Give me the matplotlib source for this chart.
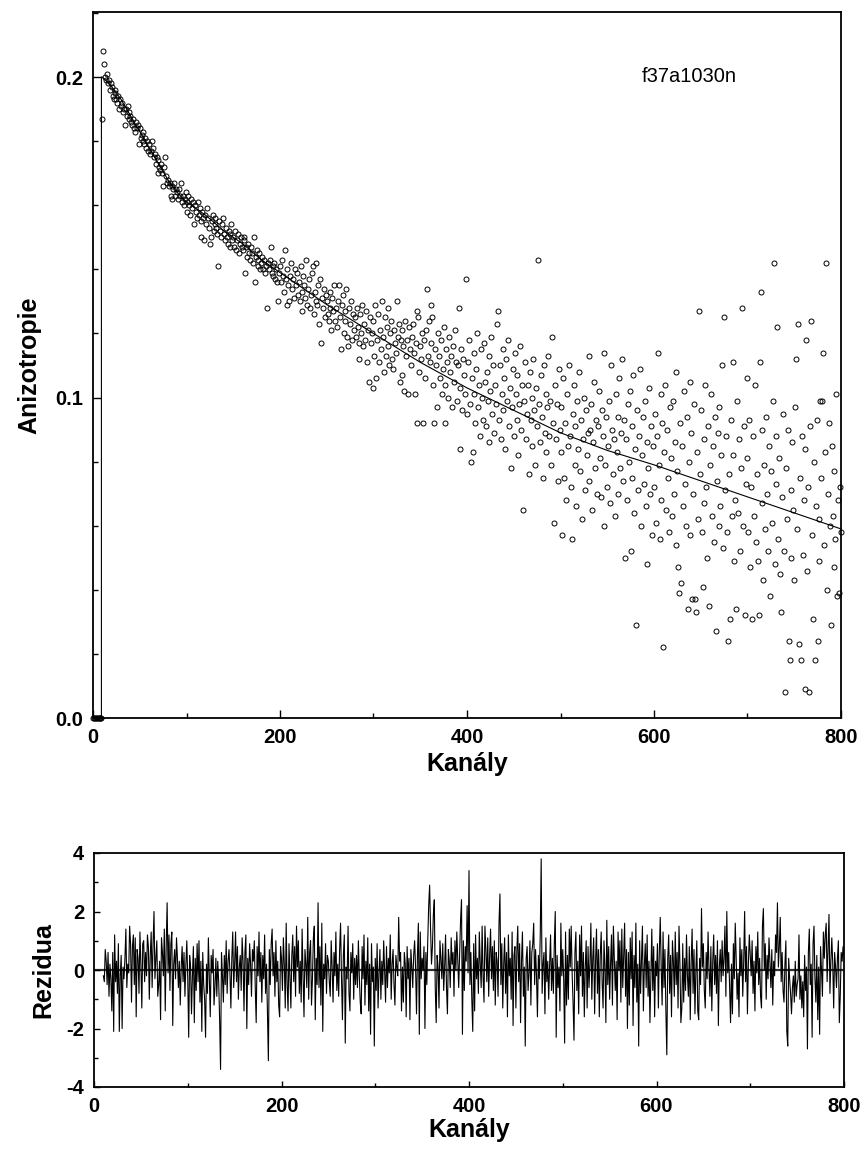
import numpy as np
import matplotlib
matplotlib.use('Agg')
import matplotlib.pyplot as plt
from matplotlib.ticker import MultipleLocator

plt.rcParams['font.family'] = ['Liberation Sans', 'DejaVu Sans']
plt.rcParams['axes.unicode_minus'] = False

# anisotropy per channel (0..800)
aniso = [
    0.0, 0.0, 0.0, 0.0, 0.0, 0.0, 0.0, 0.0, 0.0, 0.0,
    .187, .208, .204, .200, .199, .201, .198, .199, .196, .198,
    .197, .194, .193, .196, .195, .193, .192, .194, .190, .193,
    .191, .192, .189, .190, .185, .190, .188, .191, .187, .189,
    .188, .186, .185, .187, .184, .183, .186, .184, .185, .179,
    .184, .181, .182, .180, .183, .179, .181, .178, .180, .177,
    .179, .176, .177, .180, .178, .175, .176, .173, .175, .170,
    .174, .172, .171, .173, .170, .166, .172, .175, .169, .167,
    .168, .166, .167, .163, .162, .166, .165, .167, .163, .165,
    .164, .162, .165, .163, .167, .161, .163, .160, .162, .164,
    # 100
    .161, .158, .163, .160, .157, .162, .159, .161, .154, .160,
    .158, .156, .161, .157, .159, .155, .150, .158, .156, .149,
    .157, .154, .159, .156, .153, .148, .150, .155, .157, .152,
    .154, .156, .153, .151, .141, .155, .152, .150, .154, .156,
    .151, .149, .153, .150, .148, .152, .147, .151, .154, .149,
    .150, .147, .152, .146, .149, .151, .145, .148, .150, .147,
    .146, .149, .150, .139, .147, .144, .148, .145, .143, .147,
    .145, .142, .150, .136, .144, .146, .141, .143, .145, .140,
    .142, .144, .140, .143, .139, .141, .128, .142, .140, .143,
    .147, .139, .141, .138, .142, .137, .140, .136, .130, .139,
    # 200
    .141, .136, .143, .138, .133, .146, .137, .129, .140, .135,
    .130, .138, .142, .134, .137, .131, .140, .135, .139, .132,
    .136, .130, .141, .133, .127, .138, .135, .131, .143, .129,
    .134, .137, .128, .132, .139, .141, .126, .133, .130, .142,
    .129, .135, .123, .137, .117, .131, .128, .134, .125, .132,
    .130, .126, .124, .133, .128, .121, .131, .127, .135, .124,
    .128, .122, .130, .135, .125, .115, .129, .132, .120, .127,
    .124, .134, .119, .116, .128, .123, .130, .118, .126, .121,
    .125, .119, .128, .122, .117, .112, .126, .120, .129, .116,
    .123, .118, .127, .111, .121, .105, .125, .117, .120, .103,
    # 300
    .124, .113, .129, .106, .118, .126, .111, .121, .115, .130,
    .119, .108, .125, .113, .122, .116, .128, .110, .120, .124,
    .112, .109, .121, .117, .114, .130, .119, .123, .105, .118,
    .107, .121, .116, .102, .124, .113, .118, .101, .122, .115,
    .110, .119, .123, .114, .101, .117, .127, .092, .125, .108,
    .116, .112, .120, .092, .118, .106, .121, .134, .113, .124,
    .111, .117, .129, .125, .104, .092, .115, .110, .097, .120,
    .113, .106, .118, .101, .109, .122, .104, .092, .115, .111,
    .100, .119, .108, .113, .097, .116, .105, .121, .111, .099,
    .110, .128, .084, .103, .115, .096, .112, .107, .101, .137,
    # 400
    .095, .111, .118, .098, .080, .106, .083, .114, .101, .092,
    .109, .120, .097, .104, .088, .115, .100, .093, .117, .105,
    .091, .108, .099, .113, .086, .102, .119, .095, .110, .089,
    .104, .098, .123, .127, .093, .110, .087, .101, .115, .096,
    .106, .084, .112, .099, .118, .091, .103, .078, .097, .109,
    .088, .114, .101, .093, .107, .082, .098, .116, .090, .104,
    .065, .099, .111, .087, .095, .104, .076, .108, .093, .100,
    .085, .112, .096, .079, .103, .091, .143, .098, .086, .107,
    .094, .075, .110, .089, .101, .083, .097, .113, .088, .099,
    .079, .119, .092, .061, .104, .087, .098, .074, .109, .090,
    # 500
    .097, .083, .057, .106, .075, .092, .068, .101, .085, .110,
    .088, .072, .056, .095, .104, .079, .091, .066, .099, .084,
    .108, .077, .093, .062, .087, .100, .071, .096, .082, .089,
    .113, .074, .090, .098, .065, .086, .105, .078, .093, .070,
    .091, .102, .081, .069, .096, .088, .060, .114, .079, .094,
    .072, .085, .099, .067, .110, .090, .076, .087, .063, .101,
    .083, .094, .070, .106, .078, .089, .112, .074, .093, .050,
    .087, .068, .098, .080, .102, .052, .091, .075, .107, .064,
    .084, .029, .096, .071, .088, .109, .060, .082, .094, .073,
    .099, .066, .086, .048, .078, .103, .070, .091, .057, .085,
    # 600
    .072, .095, .061, .088, .114, .079, .056, .101, .068, .092,
    .022, .083, .104, .065, .090, .075, .058, .097, .081, .063,
    .099, .070, .086, .054, .108, .077, .047, .039, .092, .042,
    .085, .066, .102, .073, .060, .094, .034, .080, .105, .057,
    .089, .037, .070, .098, .037, .033, .083, .062, .127, .076,
    .096, .058, .041, .087, .067, .104, .072, .050, .091, .035,
    .079, .101, .063, .085, .055, .094, .027, .074, .089, .060,
    .097, .066, .082, .110, .053, .125, .071, .088, .058, .024,
    .076, .031, .093, .063, .111, .082, .049, .068, .034, .099,
    .064, .087, .052, .078, .128, .060, .091, .032, .073, .106,
    # 700
    .081, .058, .093, .047, .072, .031, .088, .063, .104, .055,
    .076, .049, .032, .111, .133, .067, .090, .043, .079, .059,
    .094, .070, .052, .085, .038, .077, .061, .099, .142, .048,
    .073, .088, .122, .056, .081, .045, .033, .069, .095, .052,
    .008, .078, .062, .090, .024, .018, .071, .050, .086, .065,
    .043, .097, .112, .059, .123, .023, .075, .018, .088, .051,
    .068, .009, .084, .118, .046, .072, .008, .091, .124, .057,
    .031, .080, .018, .066, .093, .024, .062, .049, .099, .075,
    .099, .114, .054, .083, .142, .040, .070, .092, .060, .029,
    .085, .063, .047, .077, .056, .101, .038, .068, .039, .072,
    .058,
]

# fitted curve, read at a few channels
fit_ch = [0, 9, 9, 10, 20, 30, 40, 50, 60, 70, 80, 90, 100, 120, 140, 160, 180,
          200, 250, 300, 350, 400, 450, 500, 550, 600, 650, 700, 750, 800]
fit_val = [0.0, 0.0, .200, .200, .197, .193, .188, .183, .178, .173, .168, .164,
           .161, .157, .152, .148, .143, .139, .129, .120, .111, .103, .096,
           .089, .0835, .079, .074, .069, .064, .059]

# weighted residuals, channels 10..800
resid = [
    -0.2, -0.4, 0.7, 0.3, -0.5, 0.6, -0.9, 0.2, -0.3, -1.4,
    0.6, -2.1, 1.2, -0.4, 0.3, -0.8, 0.9, -2.1, -0.2, 0.5,
    -2.0, 0.1, -0.3, 0.4, 1.4, -0.6, 0.2, -0.1, 1.5, 0.9,
    -1.1, 0.8, 1.2, -0.5, 1.1, -1.6, 0.7, 0.4, -0.8, 1.3,
    0.2, -1.3, 0.9, 1.0, -0.4, 0.6, -0.2, 1.2, 0.8, -1.0,
    0.5, 1.3, -0.6, 0.9, 2.0, -0.3, 0.4, 1.0, -0.9, -0.5,
    0.3, -1.7, 1.1, 0.6, -0.2, 1.4, -1.4, 0.8, 2.3, -0.1,
    1.2, -0.7, 0.9, 1.3, -1.9, 0.2, 0.7, -0.3, 1.1, 0.4,
    -0.6, 0.3, -1.2, 0.1, 0.8, -0.4, 0.6, -0.9, 0.2, 1.0,
    # 100
    -0.3, -2.3, 0.5, 0.1, -1.5, -0.2, 0.8, -1.8, 0.4, -0.7,
    0.9, -0.4, 1.0, -1.1, 0.3, -2.1, 0.6, -0.5, -1.0, -2.3,
    0.2, -0.8, 1.1, -0.3, -1.6, 0.5, -0.1, 0.7, -1.2, -0.6,
    0.4, -0.9, 0.3, -0.4, -1.7, -3.4, 0.6, -0.2, -1.1, 0.5,
    -0.5, 1.0, -0.8, 0.3, 0.7, -0.1, -1.3, 0.4, 1.3, -0.6,
    0.2, 1.3, -0.4, 0.8, -1.0, 0.1, 0.5, -0.7, 1.1, 0.3,
    -1.4, 0.6, 1.2, -2.0, 0.4, -0.5, 0.9, 0.2, -0.9, 0.7,
    0.3, 1.0, -0.6, -1.8, 0.8, -0.2, 1.3, -0.4, 0.6, -1.1,
    0.5, -0.3, 1.2, -0.8, 0.2, -1.5, -3.1, 0.7, -0.5, 0.9,
    1.4, -0.2, 0.6, -0.9, 1.0, -0.4, 0.3, -1.2, -1.6, 0.8,
    # 200
    0.4, -0.7, 1.1, 0.2, -1.3, 1.6, -0.5, -1.4, 0.9, -0.2,
    -1.3, 0.5, 1.2, -0.4, 0.8, -0.9, 1.5, 0.1, 1.0, -0.8,
    0.3, -1.1, 1.4, -0.2, -1.6, 0.7, 0.2, -0.6, 1.8, -1.0,
    0.6, 1.0, -1.2, -0.3, 1.1, 1.5, -1.7, 0.4, -0.5, 2.3,
    -0.6, 0.8, -1.2, 1.6, -2.1, 0.2, -0.3, 0.9, -0.8, 0.5,
    0.3, -0.4, -0.9, 1.0, 0.1, -1.1, 0.6, -0.2, 1.3, -0.7,
    0.2, -0.9, 0.7, 1.6, -0.3, -1.7, 0.5, 1.2, -2.5, 0.1,
    -0.3, 1.5, -0.8, -1.4, 0.6, -0.1, 0.9, -1.0, 0.4, -0.5,
    0.5, -0.6, 1.0, -0.2, -1.1, -1.5, 0.8, -0.3, 1.2, -1.2,
    0.3, -0.5, 1.1, -1.4, 0.2, -2.2, 0.9, -0.4, 0.1, -2.6,
    # 300
    0.4, -0.7, 0.9, -1.3, -0.1, 0.7, -1.0, 0.3, -0.5, 1.0,
    0.0, -1.1, 0.8, -0.6, 0.4, -0.1, 1.2, -1.0, 0.2, 0.7,
    -0.5, -1.2, 0.5, 0.1, -0.2, 1.8, 0.3, 0.6, -1.4, 0.1,
    -1.1, 0.6, 0.2, -1.6, 0.8, -0.3, 0.4, -1.7, 0.7, 0.1,
    -0.6, 0.5, 1.0, 0.1, -1.5, 0.5, 1.6, -2.2, 1.3, -0.3,
    0.4, 0.0, 0.8, -2.0, 0.6, -0.5, 1.0, 2.2, 2.9, 1.4,
    0.2, 0.8, 1.9, 2.4, -0.6, -1.8, 0.5, 0.1, -1.3, 1.0,
    0.4, -0.3, 0.9, -0.7, 0.1, 1.2, -0.6, -1.5, 0.7, 0.3,
    -0.6, 1.1, 0.2, 0.6, -0.9, 1.0, 0.0, 1.3, 0.4, -0.6,
    0.5, 1.7, 2.4, -2.2, 1.0, -0.7, 0.8, 0.3, 2.2, -0.1,
    # 400
    3.4, -0.5, 0.6, -1.0, -2.1, 0.9, -1.4, 1.2, -0.3, 0.4,
    -0.8, 1.3, 0.2, -0.6, 1.5, -0.2, -1.1, 1.5, 0.7, -0.4,
    1.1, -0.9, 0.5, 1.4, -0.3, 0.8, -0.7, 1.0, -1.2, 0.6,
    0.3, -0.9, 1.6, 2.6, -0.5, 0.9, -1.3, 0.2, 1.1, -0.8,
    0.6, -1.6, 1.2, -0.2, 0.4, -1.0, 1.3, -1.9, 0.5, 0.8,
    -1.3, 0.6, 1.5, -0.4, 0.9, -1.8, 0.3, 1.3, -0.9, 0.1,
    -2.6, 0.4, 0.8, -0.7, -0.1, 1.0, -1.2, 0.6, 0.9, 1.6,
    -0.5, 0.7, -0.2, -1.6, 0.5, -0.3, 1.2, 3.8, -0.8, 0.2,
    0.6, -1.5, 1.1, -0.4, 0.3, -1.0, 0.2, 1.2, -0.7, 0.4,
    -0.8, 0.9, 2.0, -2.3, 0.5, -0.6, 0.1, -1.4, 1.6, -0.2,
    # 500
    0.7, -0.3, -2.5, 1.3, -1.2, 0.5, -1.0, 1.4, 0.1, 1.5,
    -0.1, -1.1, -2.4, 0.6, 1.3, -0.7, 0.3, -1.5, 1.2, -0.2,
    1.5, -0.9, 0.6, -1.6, 0.1, 1.0, -1.3, 0.8, -0.6, 0.2,
    1.6, -1.0, 0.4, 1.1, -1.5, 0.3, 1.4, -0.8, 0.7, -1.6,
    0.5, 1.3, -0.4, -1.3, 1.0, 0.1, -1.8, 1.7, -0.5, 0.8,
    -1.0, 0.2, 1.2, -1.2, 1.5, 0.4, -0.7, 0.3, -1.7, 1.3,
    0.0, 1.0, -1.1, 1.4, -0.6, 0.5, 1.6, -0.9, 0.7, -2.0,
    0.6, -1.2, 1.1, -0.3, 1.3, -1.9, 0.5, -0.6, 1.6, -1.1,
    0.2, -2.6, 1.0, -0.8, 0.4, 1.5, -1.4, 0.1, 0.9, -0.6,
    1.2, -0.9, 0.3, -1.8, -0.1, 1.4, -0.7, 0.8, -1.6, 0.3,
    # 600
    -0.2, 0.9, -1.3, 0.6, 1.8, 0.1, -1.2, 1.3, -0.6, 0.7,
    -1.4, -2.9, 0.4, 1.2, -0.8, 0.5, -1.6, 1.0, 0.3, -0.9,
    1.3, -0.5, 0.6, -1.3, 1.5, 0.2, -1.8, -1.3, 0.9, -1.1,
    0.4, -0.7, 1.2, -0.2, -0.9, 0.8, -1.7, 0.3, 1.4, -0.8,
    0.7, -1.5, 0.0, 1.0, -1.4, -1.7, 0.4, -0.5, 2.1, 0.1,
    0.9, -0.7, -1.3, 0.6, -0.3, 1.3, 0.0, -0.9, 0.8, -1.4,
    0.3, 1.2, -0.5, 0.5, -0.8, 1.0, -1.9, 0.1, 0.7, -0.4,
    1.0, -0.2, 0.4, 1.5, -0.9, 2.0, -0.1, 0.6, -0.6, -1.8,
    0.2, -1.5, 0.9, -0.3, 1.6, 0.4, -1.0, -0.1, -1.6, 1.1,
    -0.2, 0.7, -0.9, 0.3, 2.0, -0.4, 0.8, -1.5, 0.2, 1.2,
    # 700
    0.5, -0.2, 1.0, -0.8, 0.3, -1.4, 0.8, -0.1, 1.3, -0.5,
    0.4, -0.9, -1.3, 1.5, 2.1, 0.0, 0.9, -1.0, 0.5, -0.3,
    1.1, 0.2, -0.6, 0.7, -1.2, 0.3, -0.2, 1.2, 0.6, 2.3,
    0.1, 0.8, 1.8, -0.4, 0.6, -0.7, -1.1, 0.2, 1.0, -2.1,
    -2.6, 0.4, -0.3, -0.8, -1.5, -0.6, -0.2, -1.1, 0.3, -0.9,
    -0.5, -0.3, 1.2, -1.0, -0.2, -1.3, -0.4, -1.6, 0.5, -0.7,
    0.1, -2.7, 0.6, 1.4, -0.5, 0.2, -2.3, 0.9, 1.5, -0.3,
    -1.1, 0.5, -1.7, 0.1, -2.2, 0.8, 0.0, -0.9, 1.3, 0.4,
    1.2, 1.6, -0.4, 0.7, 1.9, -0.8, 0.3, 1.1, 0.2, -1.3,
    0.6, 0.1, -0.6, 0.4, 1.0, -1.8, -0.9, 0.6, 0.3, 0.8,
    0.5,
]

channels = np.arange(len(aniso))
resid_ch = np.arange(10, 10 + len(resid))

W, H = 864, 1153
fig = plt.figure(figsize=(W / 100, H / 100), dpi=100)

ax1 = fig.add_axes([93 / W, 1 - 718 / H, 748 / W, 706 / H])
ax2 = fig.add_axes([94 / W, 1 - 1087 / H, 750 / W, 234 / H])

label_font = dict(fontsize=18, fontweight='bold')

# top panel: anisotropy decay
ax1.plot(channels, aniso, 'o', ms=3.6, mfc='none', mec='black', mew=0.7, clip_on=False, zorder=3)
ax1.plot(fit_ch, fit_val, color='black', lw=0.8, zorder=2)
ax1.set_xlim(0, 800)
ax1.set_ylim(0, 0.2203)
ax1.xaxis.set_major_locator(MultipleLocator(200))
ax1.xaxis.set_minor_locator(MultipleLocator(100))
ax1.yaxis.set_minor_locator(MultipleLocator(0.02))
ax1.set_yticks([0.0, 0.1, 0.2])
ax1.set_yticklabels(['0.0', '0.1', '0.2'])
ax1.set_xlabel('Kanály', labelpad=4, **label_font)
ax1.set_ylabel('Anizotropie', labelpad=10, **label_font)
ax1.text(0.734, 0.908, 'f37a1030n', transform=ax1.transAxes, fontsize=14.5, va='center', ha='left')

# bottom panel: residuals
ax2.axhline(0, color='#303030', lw=1.6, zorder=1)
ax2.plot(resid_ch, resid, color='black', lw=0.8, zorder=2)
ax2.set_xlim(0, 800)
ax2.set_ylim(-4, 4)
ax2.xaxis.set_major_locator(MultipleLocator(200))
ax2.xaxis.set_minor_locator(MultipleLocator(100))
ax2.yaxis.set_major_locator(MultipleLocator(2))
ax2.yaxis.set_minor_locator(MultipleLocator(1))
ax2.set_xlabel('Kanály', labelpad=2, **label_font)
ax2.set_ylabel('Rezidua', labelpad=8, **label_font)

for ax in (ax1, ax2):
    for s in ax.spines.values():
        s.set_linewidth(1.3)
    ax.tick_params(which='both', direction='in', top=False, right=False, width=1.0)
    ax.tick_params(axis='both', which='major', labelsize=14.5, pad=7)
    for lab in ax.get_xticklabels() + ax.get_yticklabels():
        lab.set_fontweight('bold')
ax1.tick_params(which='major', length=5.5)
ax1.tick_params(which='minor', length=3.6)
ax2.tick_params(which='major', length=4)
ax2.tick_params(which='minor', length=3)

fig.savefig('out.png', dpi=100)
